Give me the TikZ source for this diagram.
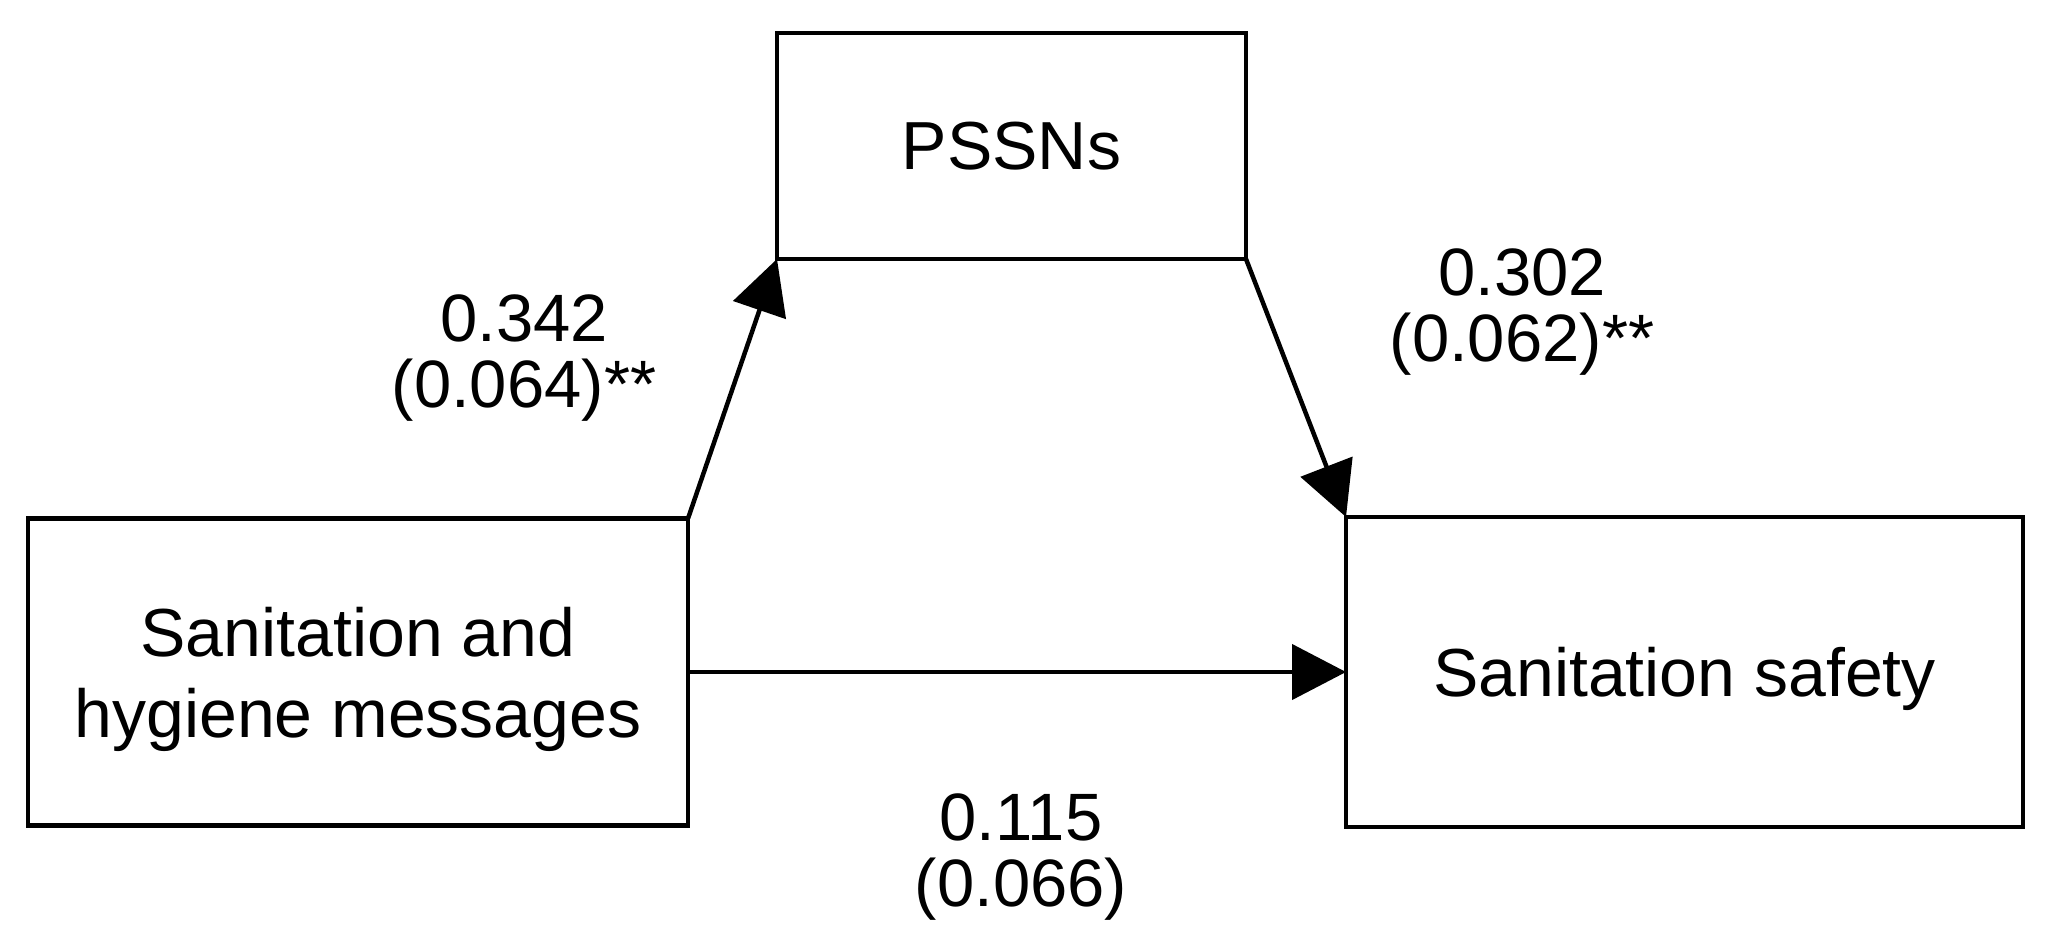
\documentclass[tikz,border=0pt]{standalone}
\usepackage{fontspec}
\setmainfont{Liberation Sans}
\usetikzlibrary{arrows.meta}
\begin{document}
\begin{tikzpicture}[x=1pt,y=-1pt,
  box/.style={draw,line width=4.5pt,rectangle,inner sep=0pt,outer sep=0pt,align=center,font=\fontsize{68}{81}\selectfont},
  lab/.style={align=center,inner sep=0pt,font=\fontsize{67}{66}\selectfont},
  conn/.style={line width=4.5pt,-{Triangle[length=54pt,width=55pt]}}]
\useasboundingbox (0,0) rectangle (2056,943);
\node[box,text depth=0pt,minimum width=660pt,minimum height=307pt] (src) at (358,672) {Sanitation and\\hygiene messages};
\node[box,minimum width=469pt,minimum height=226pt] (med) at (1011.5,146) {PSSNs};
\node[box,text depth=0pt,minimum width=677pt,minimum height=310pt] (out) at (1684.5,672) {Sanitation safety};
\draw[conn] (src.north east) -- (med.south west);
\draw[conn] (med.south east) -- (out.north west);
\draw[conn] (src.east) -- (out.west);
\node[lab] (l1) at (524,358) {0.342\\(0.064)**};
\node[lab] (l2) at (1522,312) {0.302\\(0.062)**};
\node[lab] (l3) at (1021,857) {0.115\\(0.066)};
\end{tikzpicture}
\end{document}
